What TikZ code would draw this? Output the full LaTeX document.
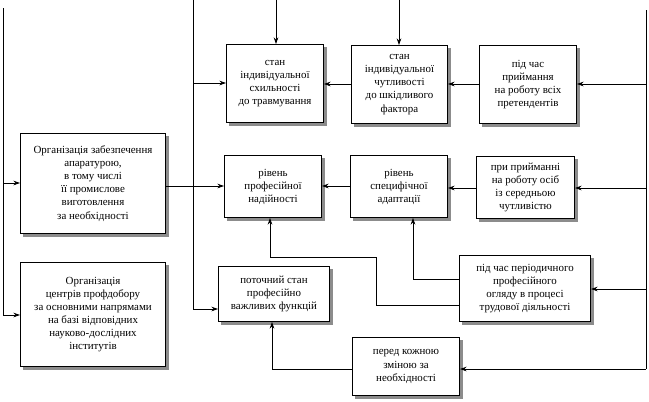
\documentclass[tikz,border=0pt]{standalone}
\usepackage{fontspec}
\setmainfont{Liberation Serif}
\usetikzlibrary{arrows.meta,shadows}
\begin{document}
\begin{tikzpicture}[x=0.75pt,y=-0.75pt,
  bx/.style={draw,fill=white,line width=0.6pt,align=center,inner sep=1pt,font=\fontsize{8.2}{9.8}\selectfont,
    drop shadow={shadow xshift=2.2pt,shadow yshift=-2.2pt,fill=black!45,opacity=1}},
  ln/.style={line width=0.6pt},
  ar/.style={ln,-{Stealth[length=5pt,width=3.5pt]}}]
\useasboundingbox (0,0) rectangle (649,401);
\newcommand\bxat[6]{\node[bx,minimum width=#3*0.75pt-0.6pt,minimum height=#4*0.75pt-0.6pt] (#5) at ({#1+#3/2},{#2+#4/2}) {#6};}
\bxat{226}{44}{98}{79}{A}{стан\\індивідуальної\\схильності\\до травмування}
\bxat{351}{45}{97}{79}{B}{стан\\індивідуальної\\чутливості\\до шкідливого\\фактора}
\bxat{479}{45}{98}{79}{C}{під час\\приймання\\на роботу всіх\\претендентів}
\bxat{20}{133}{146}{101}{O1}{Організація забезпечення\\апаратурою,\\в тому числі\\її промислове\\виготовлення\\за необхідності}
\bxat{20}{262}{146}{105}{O2}{Організація\\центрів профдобору\\за основними напрямами\\на базі відповідних\\науково-дослідних\\інститутів}
\bxat{224}{155}{98}{63}{D}{рівень\\професійної\\надійності}
\bxat{350}{155}{98}{63}{E}{рівень\\специфічної\\адаптації}
\bxat{476}{156}{99}{63}{F}{при прийманні\\на роботу осіб\\із середньою\\чутливістю}
\bxat{218}{266}{112}{56}{G}{поточний стан\\професійно\\важливих функцій}
\bxat{459}{255}{132}{67}{H}{під час періодичного\\професійного\\огляду в процесі\\трудової діяльності}
\bxat{352}{337}{108}{59}{I}{перед кожною\\зміною за\\необхідності}
% left bus
\coordinate (l0) at (3,8); \coordinate (l1) at (3,315);
\draw[ln] (l0) -- (l1);
\draw[ar] (3,183) -- (O1.west |- 0,183);
\draw[ar] (l1) -- (O2.west |- 0,315);
% middle bus
\draw[ln] (193,0) -- (193,309);
\draw[ar] (193,83) -- (A.west |- 0,83);
\draw[ar] (O1.east |- 0,186) -- (D.west |- 0,186);
\draw[ar] (193,309) -- (G.west |- 0,309);
% top arrows
\draw[ar] (276,0) -- (276,44);
\draw[ar] (399,0) -- (399,45);
% right bus
\draw[ln] (646,10) -- (646,369);
\draw[ar] (646,84) -- (C.east |- 0,84);
\draw[ar] (646,188) -- (F.east |- 0,188);
\draw[ar] (646,289) -- (H.east |- 0,289);
\draw[ar] (646,369) -- (I.east |- 0,369);
% horizontal chains
\draw[ar] (C.west |- 0,84) -- (B.east |- 0,84);
\draw[ar] (B.west |- 0,84) -- (A.east |- 0,84);
\draw[ar] (F.west |- 0,188) -- (E.east |- 0,188);
\draw[ar] (E.west |- 0,186) -- (D.east |- 0,186);
% feedback
\draw[ar] (H.west |- 0,279) -- (413,279) -- (413,218);
\draw[ar] (H.west |- 0,305) -- (376,305) -- (376,257) -- (270,257) -- (270,218);
\draw[ar] (I.west |- 0,369) -- (272,369) -- (272,322);
\end{tikzpicture}
\end{document}
